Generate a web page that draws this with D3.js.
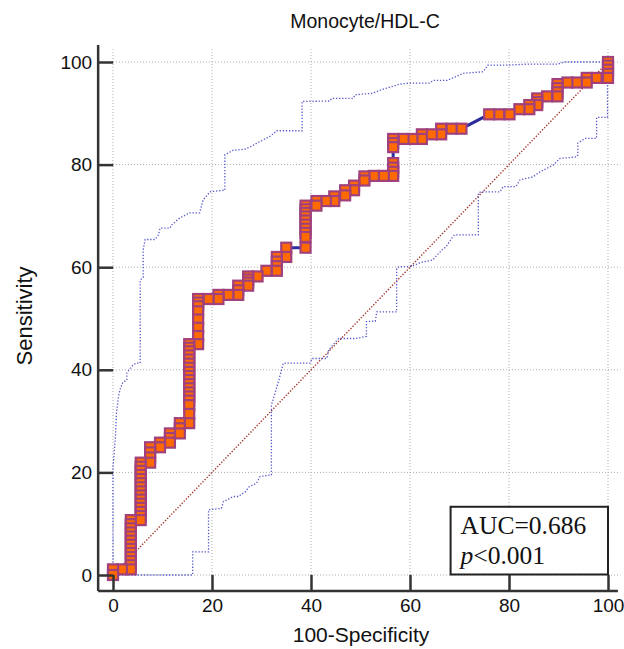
<!DOCTYPE html>
<html>
<head>
<meta charset="utf-8">
<script src="https://cdn.jsdelivr.net/npm/d3@7/dist/d3.min.js"></script>
<style>
  body { margin: 0; background: #fff; }
  text { font-family: "Liberation Sans", Arial, sans-serif; fill: #111; }
</style>
</head>
<body>
<svg id="roc-svg" width="624" height="649"></svg>
<script>
// values (x = 100-Specificity, y = Sensitivity)
const rocFpr = [
  0, 0, 1.8,
  3.6, 3.6, 3.6, 3.6, 3.6, 3.6, 3.6, 3.6, 3.6, 3.6, 3.6, 3.6, 3.6,
  5.6, 5.6, 5.6, 5.6, 5.6, 5.6, 5.6, 5.6, 5.6, 5.6, 5.6, 5.6, 5.6, 5.6, 5.6,
  7.5, 7.5, 7.5, 7.5,
  9.5, 9.5,
  11.5, 11.5, 11.5,
  13.5, 13.5, 13.5,
  15.4, 15.4, 15.4, 15.4, 15.4, 15.4, 15.4, 15.4, 15.4, 15.4, 15.4, 15.4, 15.4, 15.4, 15.4, 15.4, 15.4, 15.4,
  17.2, 17.2, 17.2, 17.2, 17.2, 17.2, 17.2, 17.2,
  19.3,
  21.3, 21.3,
  23.3,
  25.3, 25.3, 25.3,
  27.3, 27.3, 27.3, 27.3,
  29.2,
  31.0,
  33.1, 33.1, 33.1, 33.1,
  35.0, 35.0,
  38.9, 38.9, 38.9, 38.9, 38.9, 38.9, 38.9, 38.9, 38.9, 38.9,
  41.1, 41.1,
  43.0,
  44.7, 44.7,
  46.9, 46.9,
  48.7, 48.7,
  50.8, 50.8,
  52.7,
  54.7,
  56.6, 56.6, 56.6, 56.6, 56.6, 56.6, 56.6,
  58.7,
  60.5,
  62.4, 62.4,
  64.4,
  66.3, 66.3,
  68.4,
  70.4,
  76.0,
  78.0,
  80.1,
  82.1,
  84.1, 84.1,
  85.7, 85.7, 85.7,
  87.7,
  89.8, 89.8, 89.8, 89.8,
  91.8,
  93.7,
  95.7, 95.7,
  97.7,
  100, 100, 100, 100, 100
];
const rocSens = [
  0, 1.1, 1.1,
  1.1, 1.9, 2.7, 3.5, 4.3, 5.1, 5.9, 6.7, 7.5, 8.3, 9.1, 9.9, 10.7,
  10.7, 11.5, 12.3, 13.1, 13.9, 14.7, 15.5, 16.3, 17.1, 17.9, 18.7, 19.5, 20.3, 21.1, 21.9,
  21.9, 22.9, 23.9, 24.9,
  24.9, 25.8,
  25.8, 26.7, 27.6,
  27.6, 28.6, 29.6,
  29.6, 31.4, 33.1, 34.0, 34.8, 35.6, 36.4, 37.2, 38.0, 38.8, 39.6, 40.4, 41.2, 42.0, 42.8, 43.6, 44.3, 45.0,
  45.0, 46.6, 48.2, 49.8, 51.4, 52.4, 53.1, 53.8,
  53.8,
  53.8, 54.6,
  54.6,
  54.6, 55.5, 56.4,
  56.4, 57.0, 57.6, 58.2,
  58.2,
  59.3,
  59.3, 60.2, 61.1, 62.0,
  62.0, 63.8,
  63.8, 65.9, 66.7, 67.5, 68.3, 69.1, 69.9, 70.6, 71.3, 72.0,
  72.0, 72.9,
  72.9,
  72.9, 73.8,
  74.0, 75.0,
  75.0, 75.9,
  76.9, 77.7,
  77.8,
  77.8,
  77.8, 78.6, 79.4, 80.3, 83.4, 84.2, 85.0,
  85.0,
  85.0,
  85.0, 85.9,
  85.9,
  85.9, 87.0,
  87.0,
  87.0,
  89.8,
  89.8,
  89.8,
  90.8,
  90.8, 91.6,
  91.6, 92.2, 92.9,
  93.3,
  93.3, 94.1, 94.9, 95.7,
  96.0,
  96.0,
  96.0, 96.9,
  96.9,
  96.9, 97.7, 98.5, 99.3, 100
];

const upperFpr = [0, 0, 0.5, 0.7, 1.1, 1.5, 2.0, 2.8, 2.8, 4.1, 4.8, 5.5, 5.5, 6.1, 6.1, 6.5, 8.5, 9.2, 9.5, 11.5, 11.8, 13.5, 15.5, 17.5, 18.2, 19.6, 22.3, 22.6, 22.6, 24.3, 26.7, 28.0, 29.7, 31.7, 33.1, 38.2, 38.2, 43.8, 44.2, 48.5, 48.9, 52.3, 54.6, 58.0, 60.0, 64.0, 64.7, 67.5, 70.8, 74.8, 75.7, 80.0, 84.0, 90.0, 91.0, 100];
const upperSens = [0, 21.0, 27.0, 31.6, 34.8, 36.4, 37.6, 38.0, 39.4, 41.0, 41.3, 41.3, 57.5, 58.0, 63.4, 65.4, 65.4, 66.3, 67.6, 67.6, 68.2, 69.6, 70.6, 70.6, 73.1, 74.7, 75.0, 75.0, 81.9, 82.8, 83.0, 83.6, 84.5, 85.5, 86.6, 86.6, 92.3, 92.4, 92.9, 92.9, 93.6, 93.9, 94.7, 95.7, 95.9, 95.9, 96.4, 96.4, 97.8, 98.1, 99.4, 99.4, 99.6, 99.6, 100, 100];

const lowerFpr = [0, 16.1, 16.1, 19.3, 19.3, 21.9, 22.3, 24.3, 25.3, 26.7, 27.5, 29.0, 29.7, 32.0, 32.0, 32.6, 33.5, 34.4, 39.8, 40.2, 43.2, 43.6, 45.3, 45.6, 48.9, 51.2, 51.2, 53.0, 53.3, 57.3, 57.3, 57.8, 60.0, 62.5, 64.6, 65.5, 66.5, 67.3, 68.7, 69.0, 73.8, 73.8, 74.3, 78.2, 78.8, 81.4, 82.2, 84.8, 86.3, 88.9, 90.3, 93.7, 93.9, 93.9, 95.4, 97.7, 97.7, 99.9, 99.9, 100];
const lowerSens = [0, 0, 4.5, 4.5, 12.7, 13.0, 14.3, 15.3, 15.3, 16.2, 17.2, 17.9, 19.2, 19.5, 33.1, 35.0, 38.0, 41.3, 41.3, 42.2, 42.2, 43.9, 45.8, 46.1, 46.1, 46.5, 49.4, 49.5, 51.3, 51.3, 59.8, 60.1, 60.1, 61.0, 61.4, 62.4, 63.4, 64.0, 66.0, 66.3, 66.3, 74.4, 74.7, 74.7, 75.7, 75.7, 77.0, 77.6, 78.6, 79.9, 81.2, 81.5, 81.9, 84.2, 85.1, 85.1, 89.2, 89.2, 95.2, 100];

const majorTicks = [0, 20, 40, 60, 80, 100];
const minorTicks = [5, 10, 15, 25, 30, 35, 45, 50, 55, 65, 70, 75, 85, 90, 95];
const chartTitle = "Monocyte/HDL-C";
const xLabel = "100-Specificity";
const yLabel = "Sensitivity";
const aucText = "AUC=0.686";
const pText = "<0.001";

const svg = d3.select("#roc-svg");

const x = d3.scaleLinear().domain([0, 100]).range([113, 608]);
const y = d3.scaleLinear().domain([0, 100]).range([575, 62]);

const rocPoints = rocFpr.map((d, i) => ({ x: d, y: rocSens[i] }));
const upperPoints = upperFpr.map((d, i) => ({ x: d, y: upperSens[i] }));
const lowerPoints = lowerFpr.map((d, i) => ({ x: d, y: lowerSens[i] }));

// grid
const grid = svg.append("g").attr("class", "grid")
  .style("stroke", "#adadad").style("stroke-width", 1).style("stroke-dasharray", "1,2");
grid.selectAll(".vgrid").data(majorTicks).join("line")
  .attr("x1", d => x(d)).attr("x2", d => x(d))
  .attr("y1", y(0)).attr("y2", y(102.5));
grid.selectAll(".hgrid").data(majorTicks).join("line")
  .attr("y1", d => y(d)).attr("y2", d => y(d))
  .attr("x1", x(0)).attr("x2", x(102.5));

const line = d3.line().x(d => x(d.x)).y(d => y(d.y));

// diagonal
svg.append("path")
  .datum([{ x: 0, y: 0 }, { x: 100, y: 100 }])
  .attr("d", line)
  .style("fill", "none").style("stroke", "#a0302a")
  .style("stroke-width", 1.4).style("stroke-dasharray", "1.3,1.7");

// confidence bands
[upperPoints, lowerPoints].forEach(band => {
  svg.append("path")
    .datum(band)
    .attr("d", line)
    .style("fill", "none").style("stroke", "#5656cc")
    .style("stroke-width", 1.3).style("stroke-dasharray", "1.3,1.8");
});

// roc curve
svg.append("path")
  .datum(rocPoints)
  .attr("d", line)
  .style("fill", "none").style("stroke", "#2c2c9c").style("stroke-width", 3);

const size = 10;
svg.append("g").selectAll("rect")
  .data(rocPoints.slice().reverse())
  .join("rect")
  .attr("x", d => x(d.x) - size / 2)
  .attr("y", d => y(d.y) - size / 2)
  .attr("width", size).attr("height", size)
  .style("fill", "#ff6a00").style("stroke", "#a0407c").style("stroke-width", 2.2);

// axes
const yAxisX = x(-3);
const xAxisY = y(-3.1);

const yAxisG = svg.append("g").attr("transform", `translate(${yAxisX},0)`);
yAxisG.call(d3.axisLeft(y).tickValues(minorTicks).tickSize(-8).tickFormat(""));
yAxisG.call(d3.axisLeft(y).tickValues(majorTicks).tickSize(-15).tickPadding(6));
yAxisG.selectAll(".domain").remove();

const xAxisG = svg.append("g").attr("transform", `translate(0,${xAxisY})`);
xAxisG.call(d3.axisBottom(x).tickValues(minorTicks).tickSize(-8).tickFormat(""));
xAxisG.call(d3.axisBottom(x).tickValues(majorTicks).tickSize(-16).tickPadding(8));
xAxisG.selectAll(".domain").remove();

svg.selectAll(".tick line").style("stroke", "#333").style("stroke-width", 2.5);
svg.selectAll(".tick text").style("font-size", "19px").style("fill", "#111")
  .style("font-family", "'Liberation Sans', Arial, sans-serif");

svg.append("line")
  .attr("x1", yAxisX).attr("x2", yAxisX)
  .attr("y1", xAxisY).attr("y2", y(103.3))
  .style("stroke", "#333").style("stroke-width", 2.5);
svg.append("line")
  .attr("x1", yAxisX).attr("x2", x(102))
  .attr("y1", xAxisY).attr("y2", xAxisY)
  .style("stroke", "#333").style("stroke-width", 2.5);

// labels
svg.append("text")
  .attr("x", 365).attr("y", 28)
  .attr("text-anchor", "middle").style("font-size", "19.5px")
  .text(chartTitle);
svg.append("text")
  .attr("x", 361).attr("y", 642)
  .attr("text-anchor", "middle").style("font-size", "21px")
  .text(xLabel);
svg.append("text")
  .attr("transform", "translate(32,316) rotate(-90)")
  .attr("text-anchor", "middle").style("font-size", "22px")
  .text(yLabel);

// AUC box
const box = svg.append("g");
box.append("rect")
  .attr("x", x(68.2)).attr("y", y(13.3))
  .attr("width", x(100) - x(68.2)).attr("height", y(0.1) - y(13.3))
  .style("fill", "#fff").style("stroke", "#222").style("stroke-width", 2);
box.append("text")
  .attr("x", x(68.2) + 10).attr("y", y(13.3) + 27)
  .style("font-family", "'Liberation Serif', 'Times New Roman', serif")
  .style("font-size", "25.5px")
  .text(aucText);
const pLine = box.append("text")
  .attr("x", x(68.2) + 10).attr("y", y(13.3) + 57)
  .style("font-family", "'Liberation Serif', 'Times New Roman', serif")
  .style("font-size", "25.5px");
pLine.append("tspan").style("font-style", "italic").text("p");
pLine.append("tspan").text(pText);
</script>
</body>
</html>
